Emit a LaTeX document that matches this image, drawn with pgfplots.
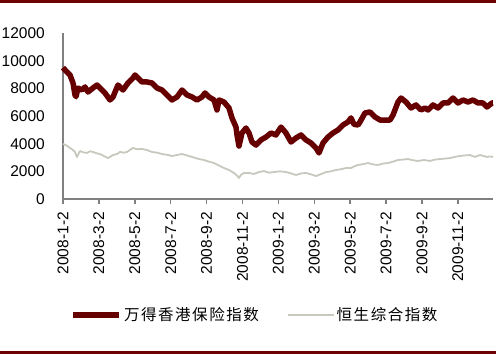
\documentclass[border=0pt]{standalone}
\usepackage{fontspec}
\setmainfont{Liberation Sans}
\newfontfamily\cjk[LetterSpace=10]{Noto Sans CJK SC}
\usepackage{pgfplots}
\pgfplotsset{compat=1.18}
\definecolor{wred}{RGB}{102,0,0}
\definecolor{hgrey}{RGB}{200,200,190}
\definecolor{axgrey}{RGB}{128,128,128}
\definecolor{rulered}{RGB}{110,0,0}
\begin{document}
\begin{tikzpicture}
\path[use as bounding box] (-63bp,-156bp) rectangle (433bp,199bp);
\draw[rulered, line width=2.5bp] (-63bp,197.5bp) -- (433bp,197.5bp);
\draw[rulered, line width=2.5bp] (-63bp,-153.3bp) -- (433bp,-153.3bp);
\begin{axis}[
  at={(0,0)}, anchor=south west,
  width=430bp, height=166bp, scale only axis,
  xmin=0, xmax=430, ymin=0, ymax=12000,
  axis lines*=left,
  axis line style={draw=axgrey, line width=1.5bp},
  tick align=outside,
  major tick length=5bp,
  xtick={0,35.9,71.8,107.7,143.6,179.5,215.4,251.3,287.2,323.1,359,394.9},
  xticklabels={2008-1-2,2008-3-2,2008-5-2,2008-7-2,2008-9-2,2008-11-2,2009-1-2,2009-3-2,2009-5-2,2009-7-2,2009-9-2,2009-11-2},
  xtick style={draw=axgrey, line width=1.5bp},
  x tick label style={rotate=90, anchor=east, inner sep=0pt, font=\fontsize{15.5bp}{18bp}\selectfont},
  ytick={0,2000,4000,6000,8000,10000,12000},
  scaled y ticks=false,
  ytick style={draw=none},
  y tick label style={anchor=east, inner sep=0pt, font=\fontsize{15.5bp}{18bp}\selectfont},
  yticklabel shift=13bp,
  xticklabel shift=8bp,
  /pgf/number format/.cd, 1000 sep={}, assume math mode=true, /pgfplots/.cd,
  legend columns=2,
  legend style={draw=none, fill=none, at={(axis description cs:0.4465,-0.699)}, anchor=center,
    font=\cjk\fontsize{15.5bp}{18bp}\selectfont, /tikz/every even column/.append style={column sep=26bp},
    nodes={inner sep=2bp}},
  legend image code/.code={\draw[#1] (0bp,0bp) -- (46bp,0bp);},
  clip=false,
]
\addplot[wred, line width=5.5bp, line join=round] coordinates {
(0,9500) (3,9250) (7,8965) (10,8387) (12,7520) (13,7400) (15,8025) (19,7880) (22,8100)
(25,7736) (30,8025) (34,8240) (37,8025) (42,7660) (47,7158) (50,7375) (55,8240)
(60,7880) (65,8387) (70,8750) (72,8965) (74,8820) (79,8460) (84,8460) (89,8387)
(94,8025) (99,7880) (104,7520) (109,7158) (114,7375) (119,7880) (124,7520) (129,7375)
(134,7158) (139,7375) (142,7664) (146,7375) (151,7158) (154,6435) (156,7158) (161,7010)
(166,6580) (169,5860) (173,5200) (174,4630) (176,3830) (179,4770) (183,5130) (186,4770)
(189,4120) (193,3900) (198,4270) (203,4480) (208,4770) (213,4630) (218,5200) (223,4770)
(228,4120) (233,4410) (238,4630) (243,4270) (248,4050) (253,3690) (256,3330) (260,4050)
(265,4480) (270,4770) (275,4990) (280,5350) (285,5570) (288,5860) (291,5400) (295,5350)
(297,5570) (302,6220) (307,6290) (312,5930) (317,5710) (322,5710) (327,5710) (330,6070)
(335,7010) (338,7300) (343,7010) (348,6580) (353,6800) (358,6435) (362,6580) (365,6435)
(370,6800) (375,6580) (380,6940) (385,6940) (390,7300) (395,6940) (400,7158) (405,7010)
(410,7158) (415,6940) (420,6940) (424,6650) (429,6940) (430,6940)
};
\addlegendentry{万得香港保险指数}
\addplot[hgrey, line width=1.8bp, line join=round] coordinates {
(0,3980) (4,3850) (7,3690) (10,3540) (12,3400) (14,3040) (17,3470) (20,3380) (24,3330)
(27,3450) (30,3400) (34,3300) (37,3250) (41,3100) (45,2960) (50,3180) (54,3250) (57,3400)
(61,3350) (64,3400) (67,3550) (70,3690) (74,3600) (79,3615) (84,3540) (89,3400) (94,3350)
(99,3250) (104,3200) (109,3110) (114,3180) (119,3250) (124,3150) (129,3040) (136,2890)
(141,2820) (146,2700) (151,2600) (156,2420) (161,2240) (166,2100) (171,1880) (174,1700)
(176,1520) (178,1750) (181,1880) (186,1880) (191,1810) (196,1950) (201,2020) (206,1900)
(211,1950) (217,2000) (223,1950) (228,1850) (233,1735) (238,1850) (243,1880) (248,1780)
(253,1660) (258,1800) (263,1950) (268,2000) (273,2100) (278,2150) (283,2240) (288,2240)
(291,2350) (295,2460) (300,2520) (305,2600) (310,2500) (315,2460) (320,2560) (325,2600)
(330,2700) (335,2820) (340,2850) (345,2890) (350,2800) (355,2750) (361,2820) (367,2750)
(372,2850) (377,2890) (382,2920) (387,2960) (392,3050) (397,3110) (402,3150) (407,3180)
(412,3040) (417,3180) (421,3100) (424,3040) (427,3080) (430,3040)
};
\addlegendentry{恒生综合指数}
\end{axis}
\end{tikzpicture}
\end{document}
